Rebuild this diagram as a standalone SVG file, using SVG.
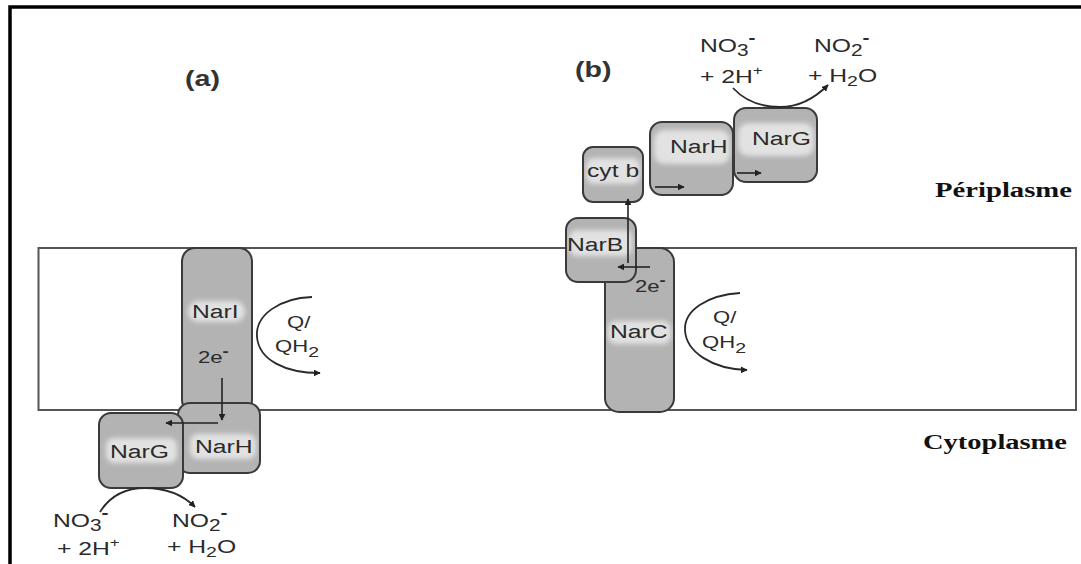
<svg xmlns="http://www.w3.org/2000/svg" width="1081" height="564" viewBox="0 0 1081 564">
<defs>
<style>
.box{fill:#b3b3b3}
.edge{fill:none;stroke:#3a3a3a;stroke-width:2}
.hl{fill:#e2e2e2;filter:url(#soft)}
.lbl{font-family:"Liberation Sans",Arial,sans-serif;font-size:19px;fill:#2b2b2b}
.chem{font-family:"Liberation Sans",Arial,sans-serif;font-size:19px;fill:#2b2b2b}
.q{font-family:"Liberation Sans",Arial,sans-serif;font-size:17px;fill:#2b2b2b}
.tag{font-family:"Liberation Sans",Arial,sans-serif;font-size:22px;font-weight:bold;fill:#333}
.side{font-family:"Liberation Serif","Times New Roman",serif;font-size:20px;font-weight:bold;fill:#111}
.arr{fill:none;stroke:#222;stroke-width:1.6;marker-end:url(#ah)}
.curve{fill:none;stroke:#2a2a2a;stroke-width:1.8;marker-end:url(#ah)}
</style>
<filter id="soft" x="-30%" y="-60%" width="160%" height="220%"><feGaussianBlur stdDeviation="2.5"/></filter>
<marker id="ah" viewBox="0 0 10 10" refX="9" refY="5" markerWidth="7" markerHeight="7" markerUnits="userSpaceOnUse" orient="auto"><path d="M0,0 L10,5 L0,10 z" fill="#222"/></marker>
</defs>
<rect width="1081" height="564" fill="#fff"/>
<path d="M10,564 V7 H1081" fill="none" stroke="#000" stroke-width="3.5"/>
<g id="membrane"><rect x="38.5" y="248" width="1037.5" height="162" fill="none" stroke="#555" stroke-width="2"/></g>

<g id="labels">
<text class="tag" transform="translate(185,86) scale(1.3,1)">(a)</text>
<text class="tag" transform="translate(575,77) scale(1.3,1)">(b)</text>
<text class="side" x="935" y="197" textLength="137" lengthAdjust="spacingAndGlyphs">Périplasme</text>
<text class="side" x="923" y="449" textLength="144" lengthAdjust="spacingAndGlyphs">Cytoplasme</text>
</g>

<g id="NarI">
<rect class="box" x="182" y="248" width="70" height="165" rx="13"/>
<rect class="hl" x="188" y="301" width="57" height="21" rx="10"/>
<rect class="edge" x="182" y="248" width="70" height="165" rx="13"/>
<text class="lbl" transform="translate(192,318) scale(1.3,1)">NarI</text>
<text class="q" transform="translate(198,363) scale(1.3,1)">2e<tspan font-size="14" font-weight="bold" dy="-7">-</tspan></text>
</g>
<g id="NarH-a">
<rect class="box" x="178" y="403" width="82" height="70" rx="12"/>
<rect class="hl" x="190" y="434" width="66" height="25" rx="8"/>
<rect class="edge" x="178" y="403" width="82" height="70" rx="12"/>
<text class="lbl" transform="translate(195,453) scale(1.3,1)">NarH</text>
</g>
<g id="NarG-a">
<rect class="box" x="99" y="413" width="84" height="75" rx="12"/>
<rect class="hl" x="106" y="438" width="71" height="25" rx="8"/>
<rect class="edge" x="99" y="413" width="84" height="75" rx="12"/>
<text class="lbl" transform="translate(110,458) scale(1.3,1)">NarG</text>
</g>
<g id="reaction-a">
<text class="chem" transform="translate(53,527) scale(1.3,1)">NO<tspan font-size="16" dy="4">3</tspan><tspan font-size="16" font-weight="bold" dy="-13">-</tspan></text>
<text class="chem" transform="translate(57,555) scale(1.3,1)">+ 2H<tspan font-size="13" dy="-8">+</tspan></text>
<text class="chem" transform="translate(172,527) scale(1.3,1)">NO<tspan font-size="16" dy="4">2</tspan><tspan font-size="16" font-weight="bold" dy="-13">-</tspan></text>
<text class="chem" transform="translate(167,553) scale(1.3,1)">+ H<tspan font-size="15" dy="4">2</tspan><tspan dy="-4">O</tspan></text>
<text class="q" transform="translate(287,328) scale(1.3,1)">Q/</text>
<text class="q" transform="translate(275,352) scale(1.3,1)">QH<tspan font-size="15" dy="5">2</tspan></text>
</g>

<g id="NarC">
<rect class="box" x="605" y="248" width="69" height="164" rx="14"/>
<rect class="hl" x="608" y="321" width="63" height="23" rx="8"/>
<rect class="edge" x="605" y="248" width="69" height="164" rx="14"/>
<text class="lbl" transform="translate(610,338) scale(1.3,1)">NarC</text>
<text class="q" transform="translate(635,292) scale(1.3,1)">2e<tspan font-size="14" font-weight="bold" dy="-7">-</tspan></text>
</g>
<g id="NarB">
<rect class="box" x="566" y="218" width="70" height="64" rx="12"/>
<rect class="hl" x="569" y="230" width="63" height="26" rx="8"/>
<rect class="edge" x="566" y="218" width="70" height="64" rx="12"/>
<text class="lbl" transform="translate(567,251) scale(1.3,1)">NarB</text>
</g>
<g id="cytb">
<rect class="box" x="583" y="147" width="60" height="55" rx="10"/>
<rect class="hl" x="586" y="158" width="54" height="26" rx="8"/>
<rect class="edge" x="583" y="147" width="60" height="55" rx="10"/>
<text class="lbl" transform="translate(587,177) scale(1.3,1)">cyt b</text>
</g>
<g id="NarH-b">
<rect class="box" x="650" y="122" width="83" height="73" rx="12"/>
<rect class="hl" x="654" y="130" width="76" height="34" rx="10"/>
<rect class="edge" x="650" y="122" width="83" height="73" rx="12"/>
<text class="lbl" transform="translate(670,153) scale(1.3,1)">NarH</text>
</g>
<g id="NarG-b">
<rect class="box" x="734" y="108" width="83" height="74" rx="12"/>
<rect class="hl" x="738" y="123" width="76" height="33" rx="10"/>
<rect class="edge" x="734" y="108" width="83" height="74" rx="12"/>
<text class="lbl" transform="translate(752,145) scale(1.3,1)">NarG</text>
</g>
<g id="reaction-b">
<text class="chem" transform="translate(700,52) scale(1.3,1)">NO<tspan font-size="16" dy="4">3</tspan><tspan font-size="16" font-weight="bold" dy="-13">-</tspan></text>
<text class="chem" transform="translate(700,83) scale(1.3,1)">+ 2H<tspan font-size="13" dy="-8">+</tspan></text>
<text class="chem" transform="translate(814,52) scale(1.3,1)">NO<tspan font-size="16" dy="4">2</tspan><tspan font-size="16" font-weight="bold" dy="-13">-</tspan></text>
<text class="chem" transform="translate(808,82) scale(1.3,1)">+ H<tspan font-size="15" dy="4">2</tspan><tspan dy="-4">O</tspan></text>
<text class="q" transform="translate(713,323) scale(1.3,1)">Q/</text>
<text class="q" transform="translate(702,348) scale(1.3,1)">QH<tspan font-size="15" dy="5">2</tspan></text>
</g>

<g id="connectors">
<path class="arr" d="M222,378 V420"/>
<path class="arr" d="M218,423 H166"/>
<path class="curve" d="M100,512 C110,496 125,488 145,488 C165,488 183,495 195,507"/>
<path class="curve" d="M312,297 C280,298 255,315 257,337 C259,360 285,373 320,373"/>
<path class="arr" d="M650,267 H618"/>
<path class="arr" d="M628,263 V199"/>
<path class="arr" d="M655,187 H684"/>
<path class="arr" d="M737,173 H761"/>
<path class="curve" d="M733,88 C745,101 762,107 780,107 C800,107 815,98 828,85"/>
<path class="curve" d="M740,293 C708,295 684,310 685,330 C686,352 712,369 747,370"/>
</g>
</svg>
